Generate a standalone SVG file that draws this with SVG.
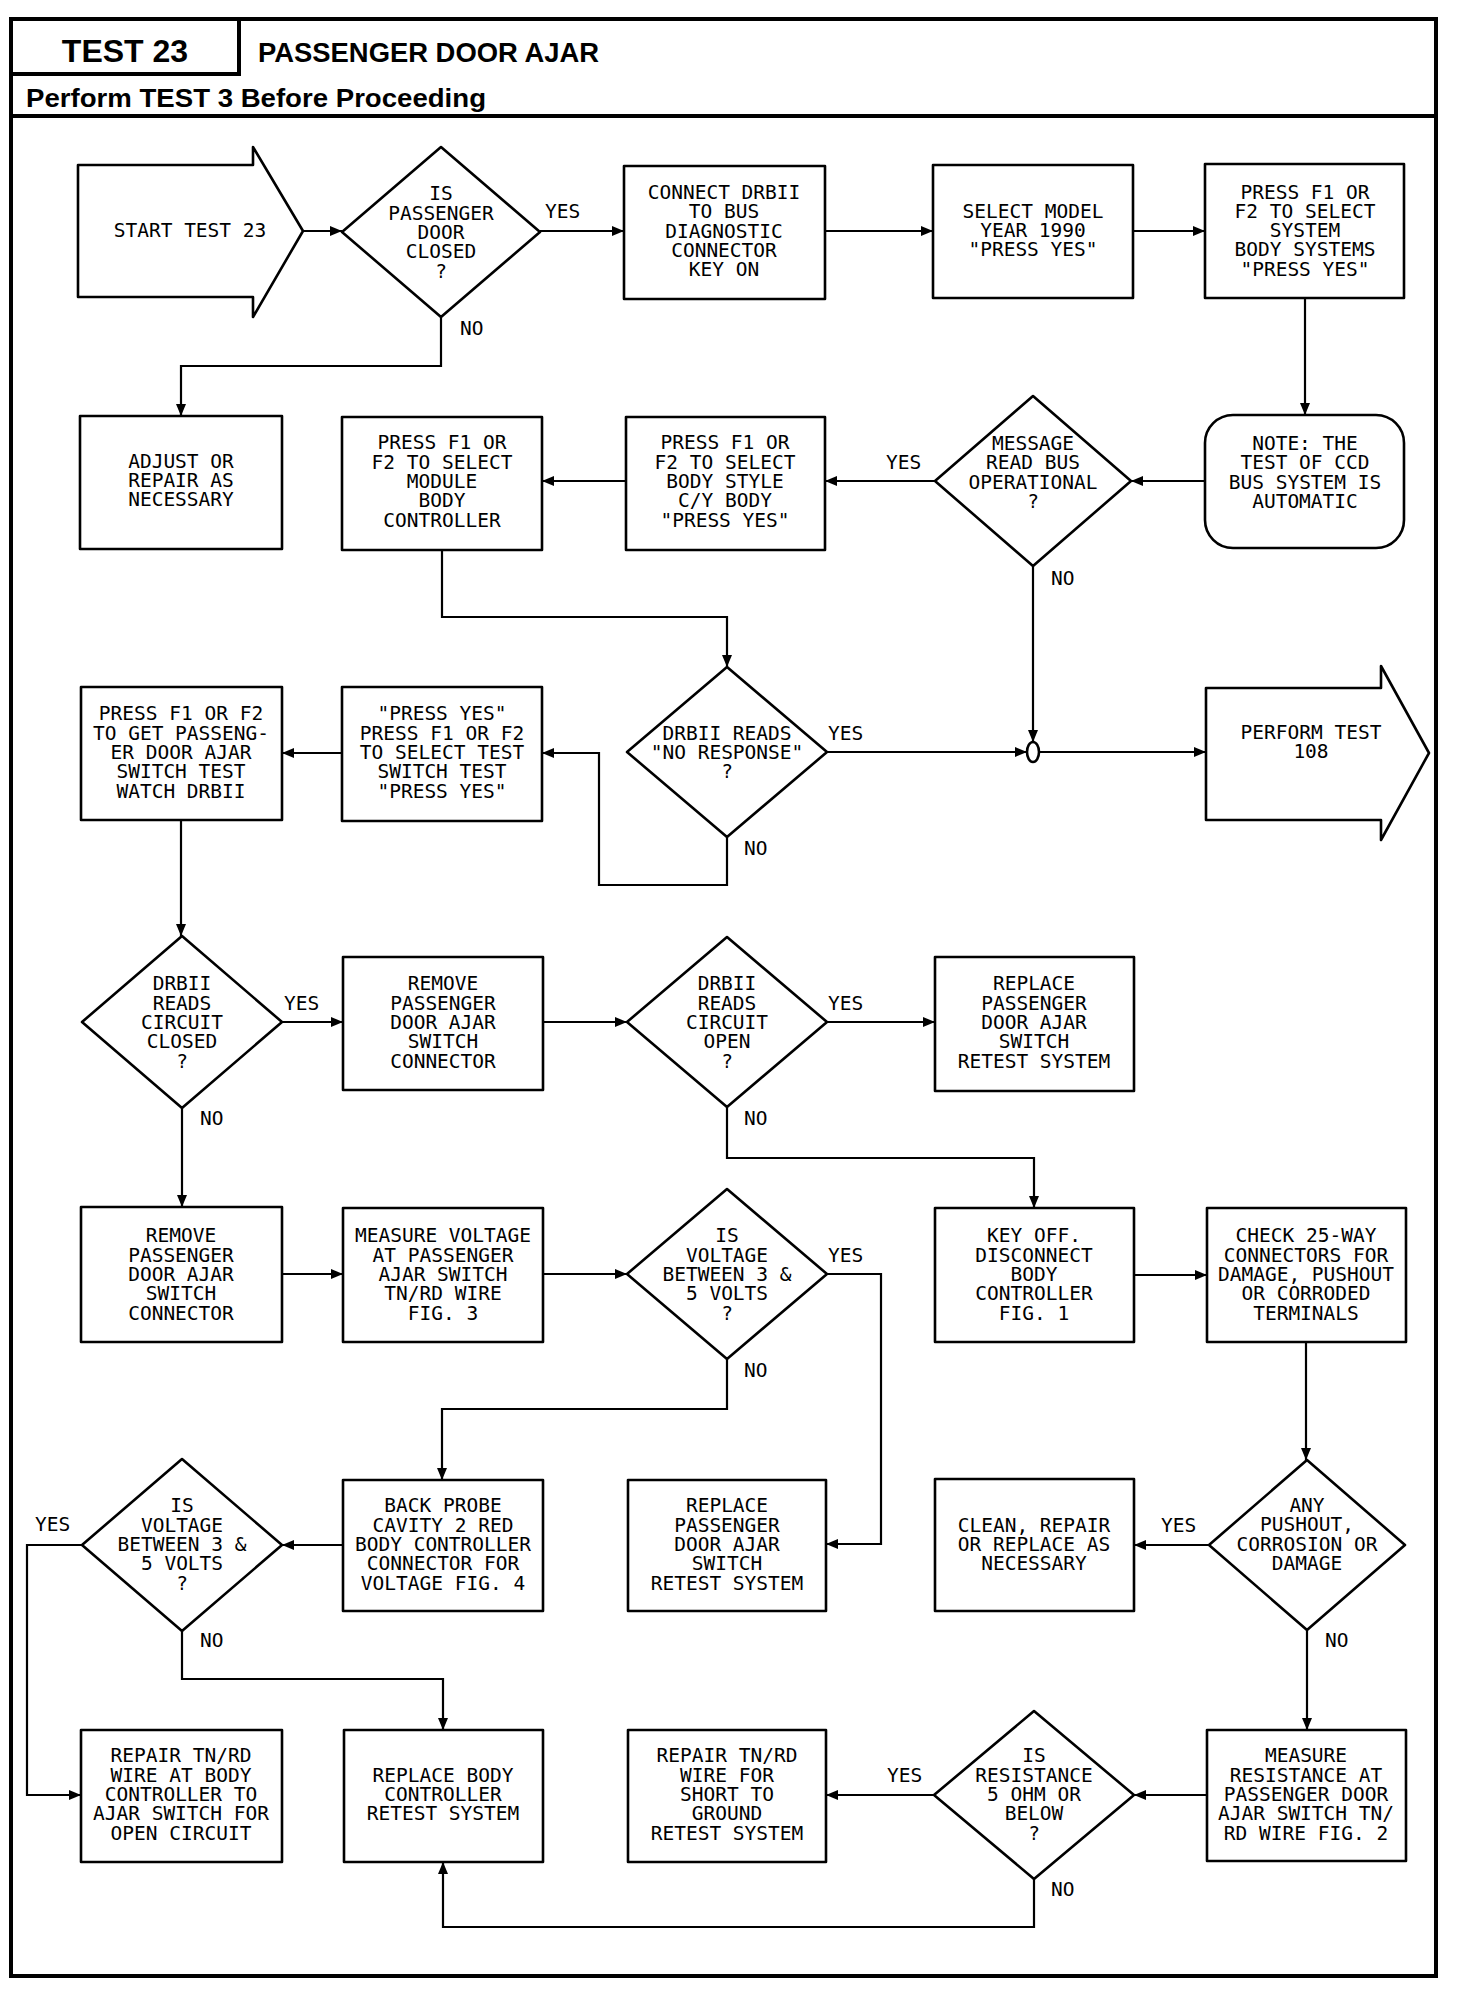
<svg xmlns="http://www.w3.org/2000/svg" width="1472" height="2006" viewBox="0 0 1472 2006">
<style>
.t{font-family:"DejaVu Sans Mono","Liberation Mono",monospace;font-size:19.5px;text-anchor:middle;fill:#000}
.l{font-family:"DejaVu Sans Mono","Liberation Mono",monospace;font-size:19.5px;fill:#000}
.h{font-family:"Liberation Sans",Arial,sans-serif;font-weight:bold;fill:#000}
.s{fill:#fff;stroke:#000;stroke-width:2.6;stroke-linejoin:round}
.c{fill:none;stroke:#000;stroke-width:2.2}
.f{fill:none;stroke:#000;stroke-width:4}
</style>
<defs>
<marker id="a" markerUnits="userSpaceOnUse" markerWidth="12" markerHeight="10" refX="12" refY="5" orient="auto">
<path d="M0,0 L12,5 L0,10 Z" fill="#000"/>
</marker>
</defs>
<rect width="1472" height="2006" fill="#fff"/>
<g id="frame">
<rect x="11" y="19" width="1425" height="1957" class="f"/>
<path d="M239,19 V74 H11 M11,116 H1436" class="f"/>
<text class="h" x="125" y="62" font-size="32" text-anchor="middle">TEST 23</text>
<text class="h" x="258" y="62" font-size="27" textLength="341" lengthAdjust="spacingAndGlyphs">PASSENGER DOOR AJAR</text>
<text class="h" x="26" y="107" font-size="25" textLength="460" lengthAdjust="spacingAndGlyphs">Perform TEST 3 Before Proceeding</text>
</g>
<g id="connectors">
<path class="c" marker-end="url(#a)" d="M303,231 H342"/>
<path class="c" marker-end="url(#a)" d="M540,231 H624"/>
<path class="c" marker-end="url(#a)" d="M825,231 H933"/>
<path class="c" marker-end="url(#a)" d="M1133,231 H1205"/>
<path class="c" marker-end="url(#a)" d="M1305,298 V415"/>
<path class="c" marker-end="url(#a)" d="M441,317 V366 H181 V416"/>
<path class="c" marker-end="url(#a)" d="M1205,481 H1131"/>
<path class="c" marker-end="url(#a)" d="M935,481 H825"/>
<path class="c" marker-end="url(#a)" d="M626,481 H542"/>
<path class="c" marker-end="url(#a)" d="M442,550 V617 H727 V667"/>
<path class="c" marker-end="url(#a)" d="M1033,566 V742"/>
<path class="c" marker-end="url(#a)" d="M827,752 H1027"/>
<path class="c" marker-end="url(#a)" d="M1039,752 H1206"/>
<path class="c" marker-end="url(#a)" d="M727,837 V885 H599 V753 H542"/>
<path class="c" marker-end="url(#a)" d="M342,753 H282"/>
<path class="c" marker-end="url(#a)" d="M181,820 V936"/>
<path class="c" marker-end="url(#a)" d="M282,1022 H343"/>
<path class="c" marker-end="url(#a)" d="M182,1108 V1207"/>
<path class="c" marker-end="url(#a)" d="M543,1022 H627"/>
<path class="c" marker-end="url(#a)" d="M827,1022 H935"/>
<path class="c" marker-end="url(#a)" d="M727,1107 V1158 H1034 V1208"/>
<path class="c" marker-end="url(#a)" d="M282,1274 H343"/>
<path class="c" marker-end="url(#a)" d="M543,1274 H627"/>
<path class="c" marker-end="url(#a)" d="M827,1274 H881 V1544 H826"/>
<path class="c" marker-end="url(#a)" d="M727,1359 V1409 H442 V1480"/>
<path class="c" marker-end="url(#a)" d="M1134,1275 H1207"/>
<path class="c" marker-end="url(#a)" d="M1306,1342 V1460"/>
<path class="c" marker-end="url(#a)" d="M1209,1545 H1134"/>
<path class="c" marker-end="url(#a)" d="M1307,1630 V1730"/>
<path class="c" marker-end="url(#a)" d="M343,1545 H282"/>
<path class="c" marker-end="url(#a)" d="M82,1545 H27 V1795 H81"/>
<path class="c" marker-end="url(#a)" d="M182,1631 V1679 H443 V1730"/>
<path class="c" marker-end="url(#a)" d="M1207,1795 H1134"/>
<path class="c" marker-end="url(#a)" d="M935,1795 H826"/>
<path class="c" marker-end="url(#a)" d="M1034,1879 V1927 H443 V1862"/>
<text class="l" x="545" y="218">YES</text>
<text class="l" x="460" y="335">NO</text>
<text class="l" x="886" y="469">YES</text>
<text class="l" x="1051" y="585">NO</text>
<text class="l" x="828" y="740">YES</text>
<text class="l" x="744" y="855">NO</text>
<text class="l" x="284" y="1010">YES</text>
<text class="l" x="200" y="1125">NO</text>
<text class="l" x="828" y="1010">YES</text>
<text class="l" x="744" y="1125">NO</text>
<text class="l" x="828" y="1262">YES</text>
<text class="l" x="744" y="1377">NO</text>
<text class="l" x="1161" y="1532">YES</text>
<text class="l" x="1325" y="1647">NO</text>
<text class="l" x="35" y="1531">YES</text>
<text class="l" x="200" y="1647">NO</text>
<text class="l" x="887" y="1782">YES</text>
<text class="l" x="1051" y="1896">NO</text>
</g>
<g id="start">
<polygon class="s" points="78,165 253,165 253,147 303,231 253,317 253,297 78,297"/>
<text class="t" x="190" y="237">START TEST 23</text>
</g>
<g id="d_closed_door">
<polygon class="s" points="441,147 540,232 441,317 342,232"/>
<text class="t" y="200.4"><tspan x="441">IS</tspan><tspan x="441" dy="19.3">PASSENGER</tspan><tspan x="441" dy="19.3">DOOR</tspan><tspan x="441" dy="19.3">CLOSED</tspan><tspan x="441" dy="19.3">?</tspan></text>
</g>
<g id="b_connect">
<rect class="s" x="624" y="166" width="201" height="133"/>
<text class="t" y="199"><tspan x="724">CONNECT DRBII</tspan><tspan x="724" dy="19.3">TO BUS</tspan><tspan x="724" dy="19.3">DIAGNOSTIC</tspan><tspan x="724" dy="19.3">CONNECTOR</tspan><tspan x="724" dy="19.3">KEY ON</tspan></text>
</g>
<g id="b_select_model">
<rect class="s" x="933" y="165" width="200" height="133"/>
<text class="t" y="217.7"><tspan x="1033">SELECT MODEL</tspan><tspan x="1033" dy="19.3">YEAR 1990</tspan><tspan x="1033" dy="19.3">"PRESS YES"</tspan></text>
</g>
<g id="b_select_system">
<rect class="s" x="1205" y="164" width="199" height="134"/>
<text class="t" y="198.5"><tspan x="1305">PRESS F1 OR</tspan><tspan x="1305" dy="19.3">F2 TO SELECT</tspan><tspan x="1305" dy="19.3">SYSTEM</tspan><tspan x="1305" dy="19.3">BODY SYSTEMS</tspan><tspan x="1305" dy="19.3">"PRESS YES"</tspan></text>
</g>
<g id="b_adjust">
<rect class="s" x="80" y="416" width="202" height="133"/>
<text class="t" y="467.7"><tspan x="181">ADJUST OR</tspan><tspan x="181" dy="19.3">REPAIR AS</tspan><tspan x="181" dy="19.3">NECESSARY</tspan></text>
</g>
<g id="b_module">
<rect class="s" x="342" y="417" width="200" height="133"/>
<text class="t" y="449.4"><tspan x="442">PRESS F1 OR</tspan><tspan x="442" dy="19.3">F2 TO SELECT</tspan><tspan x="442" dy="19.3">MODULE</tspan><tspan x="442" dy="19.3">BODY</tspan><tspan x="442" dy="19.3">CONTROLLER</tspan></text>
</g>
<g id="b_body_style">
<rect class="s" x="626" y="417" width="199" height="133"/>
<text class="t" y="449.4"><tspan x="725">PRESS F1 OR</tspan><tspan x="725" dy="19.3">F2 TO SELECT</tspan><tspan x="725" dy="19.3">BODY STYLE</tspan><tspan x="725" dy="19.3">C/Y BODY</tspan><tspan x="725" dy="19.3">"PRESS YES"</tspan></text>
</g>
<g id="d_message">
<polygon class="s" points="1033,396 1131,481 1033,566 935,481"/>
<text class="t" y="450"><tspan x="1033">MESSAGE</tspan><tspan x="1033" dy="19.3">READ BUS</tspan><tspan x="1033" dy="19.3">OPERATIONAL</tspan><tspan x="1033" dy="19.3">?</tspan></text>
</g>
<g id="note">
<rect class="s" x="1205" y="415" width="199" height="133" rx="28"/>
<text class="t" y="450"><tspan x="1305">NOTE: THE</tspan><tspan x="1305" dy="19.3">TEST OF CCD</tspan><tspan x="1305" dy="19.3">BUS SYSTEM IS</tspan><tspan x="1305" dy="19.3">AUTOMATIC</tspan></text>
</g>
<g id="d_no_response">
<polygon class="s" points="727,667 827,752 727,837 627,752"/>
<text class="t" y="739.7"><tspan x="727">DRBII READS</tspan><tspan x="727" dy="19.3">"NO RESPONSE"</tspan><tspan x="727" dy="19.3">?</tspan></text>
</g>
<g id="junction">
<ellipse class="s" cx="1033" cy="752" rx="6" ry="10"/>
</g>
<g id="perform_108">
<polygon class="s" points="1206,688 1381,688 1381,666 1429,753 1381,840 1381,820 1206,820"/>
<text class="t" y="739"><tspan x="1311">PERFORM TEST</tspan><tspan x="1311" dy="19.3">108</tspan></text>
</g>
<g id="b_select_test">
<rect class="s" x="342" y="687" width="200" height="134"/>
<text class="t" y="720.4"><tspan x="442">"PRESS YES"</tspan><tspan x="442" dy="19.3">PRESS F1 OR F2</tspan><tspan x="442" dy="19.3">TO SELECT TEST</tspan><tspan x="442" dy="19.3">SWITCH TEST</tspan><tspan x="442" dy="19.3">"PRESS YES"</tspan></text>
</g>
<g id="b_get_switch_test">
<rect class="s" x="81" y="687" width="201" height="133"/>
<text class="t" y="720.4"><tspan x="181">PRESS F1 OR F2</tspan><tspan x="181" dy="19.3">TO GET PASSENG-</tspan><tspan x="181" dy="19.3">ER DOOR AJAR</tspan><tspan x="181" dy="19.3">SWITCH TEST</tspan><tspan x="181" dy="19.3">WATCH DRBII</tspan></text>
</g>
<g id="d_circuit_closed">
<polygon class="s" points="182,936 282,1022 182,1108 82,1022"/>
<text class="t" y="990.4"><tspan x="182">DRBII</tspan><tspan x="182" dy="19.3">READS</tspan><tspan x="182" dy="19.3">CIRCUIT</tspan><tspan x="182" dy="19.3">CLOSED</tspan><tspan x="182" dy="19.3">?</tspan></text>
</g>
<g id="b_remove_connector_1">
<rect class="s" x="343" y="957" width="200" height="133"/>
<text class="t" y="990.4"><tspan x="443">REMOVE</tspan><tspan x="443" dy="19.3">PASSENGER</tspan><tspan x="443" dy="19.3">DOOR AJAR</tspan><tspan x="443" dy="19.3">SWITCH</tspan><tspan x="443" dy="19.3">CONNECTOR</tspan></text>
</g>
<g id="d_circuit_open">
<polygon class="s" points="727,937 827,1022 727,1107 627,1022"/>
<text class="t" y="990.4"><tspan x="727">DRBII</tspan><tspan x="727" dy="19.3">READS</tspan><tspan x="727" dy="19.3">CIRCUIT</tspan><tspan x="727" dy="19.3">OPEN</tspan><tspan x="727" dy="19.3">?</tspan></text>
</g>
<g id="b_replace_switch_1">
<rect class="s" x="935" y="957" width="199" height="134"/>
<text class="t" y="990.4"><tspan x="1034">REPLACE</tspan><tspan x="1034" dy="19.3">PASSENGER</tspan><tspan x="1034" dy="19.3">DOOR AJAR</tspan><tspan x="1034" dy="19.3">SWITCH</tspan><tspan x="1034" dy="19.3">RETEST SYSTEM</tspan></text>
</g>
<g id="b_remove_connector_2">
<rect class="s" x="81" y="1207" width="201" height="135"/>
<text class="t" y="1242.4"><tspan x="181">REMOVE</tspan><tspan x="181" dy="19.3">PASSENGER</tspan><tspan x="181" dy="19.3">DOOR AJAR</tspan><tspan x="181" dy="19.3">SWITCH</tspan><tspan x="181" dy="19.3">CONNECTOR</tspan></text>
</g>
<g id="b_measure_voltage">
<rect class="s" x="343" y="1208" width="200" height="134"/>
<text class="t" y="1242.4"><tspan x="443">MEASURE VOLTAGE</tspan><tspan x="443" dy="19.3">AT PASSENGER</tspan><tspan x="443" dy="19.3">AJAR SWITCH</tspan><tspan x="443" dy="19.3">TN/RD WIRE</tspan><tspan x="443" dy="19.3">FIG. 3</tspan></text>
</g>
<g id="d_voltage_1">
<polygon class="s" points="727,1189 827,1274 727,1359 627,1274"/>
<text class="t" y="1242.4"><tspan x="727">IS</tspan><tspan x="727" dy="19.3">VOLTAGE</tspan><tspan x="727" dy="19.3">BETWEEN 3 &amp;</tspan><tspan x="727" dy="19.3">5 VOLTS</tspan><tspan x="727" dy="19.3">?</tspan></text>
</g>
<g id="b_key_off">
<rect class="s" x="935" y="1208" width="199" height="134"/>
<text class="t" y="1242.4"><tspan x="1034">KEY OFF.</tspan><tspan x="1034" dy="19.3">DISCONNECT</tspan><tspan x="1034" dy="19.3">BODY</tspan><tspan x="1034" dy="19.3">CONTROLLER</tspan><tspan x="1034" dy="19.3">FIG. 1</tspan></text>
</g>
<g id="b_check_25way">
<rect class="s" x="1207" y="1208" width="199" height="134"/>
<text class="t" y="1242.4"><tspan x="1306">CHECK 25-WAY</tspan><tspan x="1306" dy="19.3">CONNECTORS FOR</tspan><tspan x="1306" dy="19.3">DAMAGE, PUSHOUT</tspan><tspan x="1306" dy="19.3">OR CORRODED</tspan><tspan x="1306" dy="19.3">TERMINALS</tspan></text>
</g>
<g id="d_voltage_2">
<polygon class="s" points="182,1459 282,1545 182,1631 82,1545"/>
<text class="t" y="1512.4"><tspan x="182">IS</tspan><tspan x="182" dy="19.3">VOLTAGE</tspan><tspan x="182" dy="19.3">BETWEEN 3 &amp;</tspan><tspan x="182" dy="19.3">5 VOLTS</tspan><tspan x="182" dy="19.3">?</tspan></text>
</g>
<g id="b_back_probe">
<rect class="s" x="343" y="1480" width="200" height="131"/>
<text class="t" y="1512.4"><tspan x="443">BACK PROBE</tspan><tspan x="443" dy="19.3">CAVITY 2 RED</tspan><tspan x="443" dy="19.3">BODY CONTROLLER</tspan><tspan x="443" dy="19.3">CONNECTOR FOR</tspan><tspan x="443" dy="19.3">VOLTAGE FIG. 4</tspan></text>
</g>
<g id="b_replace_switch_2">
<rect class="s" x="628" y="1480" width="198" height="131"/>
<text class="t" y="1512.4"><tspan x="727">REPLACE</tspan><tspan x="727" dy="19.3">PASSENGER</tspan><tspan x="727" dy="19.3">DOOR AJAR</tspan><tspan x="727" dy="19.3">SWITCH</tspan><tspan x="727" dy="19.3">RETEST SYSTEM</tspan></text>
</g>
<g id="b_clean_repair">
<rect class="s" x="935" y="1479" width="199" height="132"/>
<text class="t" y="1531.7"><tspan x="1034">CLEAN, REPAIR</tspan><tspan x="1034" dy="19.3">OR REPLACE AS</tspan><tspan x="1034" dy="19.3">NECESSARY</tspan></text>
</g>
<g id="d_pushout">
<polygon class="s" points="1307,1460 1405,1545 1307,1630 1209,1545"/>
<text class="t" y="1512"><tspan x="1307">ANY</tspan><tspan x="1307" dy="19.3">PUSHOUT,</tspan><tspan x="1307" dy="19.3">CORROSION OR</tspan><tspan x="1307" dy="19.3">DAMAGE</tspan></text>
</g>
<g id="b_repair_open">
<rect class="s" x="81" y="1730" width="201" height="132"/>
<text class="t" y="1762.4"><tspan x="181">REPAIR TN/RD</tspan><tspan x="181" dy="19.3">WIRE AT BODY</tspan><tspan x="181" dy="19.3">CONTROLLER TO</tspan><tspan x="181" dy="19.3">AJAR SWITCH FOR</tspan><tspan x="181" dy="19.3">OPEN CIRCUIT</tspan></text>
</g>
<g id="b_replace_body">
<rect class="s" x="344" y="1730" width="199" height="132"/>
<text class="t" y="1781.7"><tspan x="443">REPLACE BODY</tspan><tspan x="443" dy="19.3">CONTROLLER</tspan><tspan x="443" dy="19.3">RETEST SYSTEM</tspan></text>
</g>
<g id="b_repair_short">
<rect class="s" x="628" y="1730" width="198" height="132"/>
<text class="t" y="1762.4"><tspan x="727">REPAIR TN/RD</tspan><tspan x="727" dy="19.3">WIRE FOR</tspan><tspan x="727" dy="19.3">SHORT TO</tspan><tspan x="727" dy="19.3">GROUND</tspan><tspan x="727" dy="19.3">RETEST SYSTEM</tspan></text>
</g>
<g id="d_resistance">
<polygon class="s" points="1034,1711 1134,1795 1034,1879 934,1795"/>
<text class="t" y="1762.4"><tspan x="1034">IS</tspan><tspan x="1034" dy="19.3">RESISTANCE</tspan><tspan x="1034" dy="19.3">5 OHM OR</tspan><tspan x="1034" dy="19.3">BELOW</tspan><tspan x="1034" dy="19.3">?</tspan></text>
</g>
<g id="b_measure_resistance">
<rect class="s" x="1207" y="1730" width="199" height="131"/>
<text class="t" y="1762.4"><tspan x="1306">MEASURE</tspan><tspan x="1306" dy="19.3">RESISTANCE AT</tspan><tspan x="1306" dy="19.3">PASSENGER DOOR</tspan><tspan x="1306" dy="19.3">AJAR SWITCH TN/</tspan><tspan x="1306" dy="19.3">RD WIRE FIG. 2</tspan></text>
</g>
</svg>
